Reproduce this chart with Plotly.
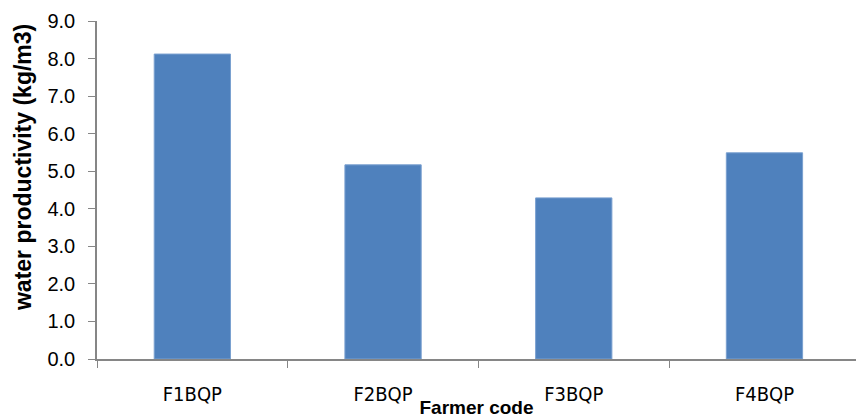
import plotly.graph_objects as go

categories = ["F1BQP", "F2BQP", "F3BQP", "F4BQP"]
values = [8.12, 5.17, 4.29, 5.49]
y_ticks = [0, 1, 2, 3, 4, 5, 6, 7, 8, 9]
y_tick_labels = [f"{v:.1f}" for v in y_ticks]
x_title = "Farmer code"
y_title = "water productivity (kg/m3)"

narrow = "DejaVu Sans Condensed, Liberation Sans, sans-serif"
regular = "Liberation Sans, Arial, sans-serif"

fig = go.Figure(
    go.Bar(
        x=categories,
        y=values,
        width=0.40,
        marker=dict(color="#4F81BD", line=dict(color="#7aa0d0", width=1)),
    )
)

fig.update_layout(
    width=856,
    height=418,
    margin=dict(l=97, r=0, t=21, b=59, autoexpand=False),
    plot_bgcolor="white",
    paper_bgcolor="white",
    showlegend=False,
    font=dict(family=regular, size=18, color="#000000"),
)

fig.update_xaxes(
    range=[-0.5, 3.48],
    showline=True,
    linecolor="#868686",
    linewidth=1.5,
    ticks="outside",
    tickson="boundaries",
    ticklen=7,
    tickcolor="#868686",
    showgrid=False,
    automargin=False,
    tickfont=dict(family=narrow, size=20),
    ticklabelstandoff=16,
    title=dict(text=f"<b>{x_title}</b>", font=dict(family=regular, size=19), standoff=0),
)

fig.update_yaxes(
    range=[0, 9],
    tickvals=y_ticks,
    ticktext=y_tick_labels,
    showline=True,
    linecolor="#868686",
    linewidth=1.5,
    ticks="outside",
    ticklen=7,
    tickcolor="#868686",
    showgrid=False,
    zeroline=False,
    automargin=False,
    tickfont=dict(family=regular, size=20),
    ticklabelstandoff=9,
)

fig.add_annotation(
    text=f"<b>{y_title}</b>",
    xref="paper",
    yref="paper",
    x=0,
    y=0.565,
    xshift=-74,
    xanchor="center",
    yanchor="middle",
    textangle=-90,
    showarrow=False,
    font=dict(family=regular, size=23, color="#000000"),
)

fig.write_html(
    "out.html",
    config={"displayModeBar": False},
    post_script="document.body.style.margin='0';document.body.style.overflow='hidden';",
)
